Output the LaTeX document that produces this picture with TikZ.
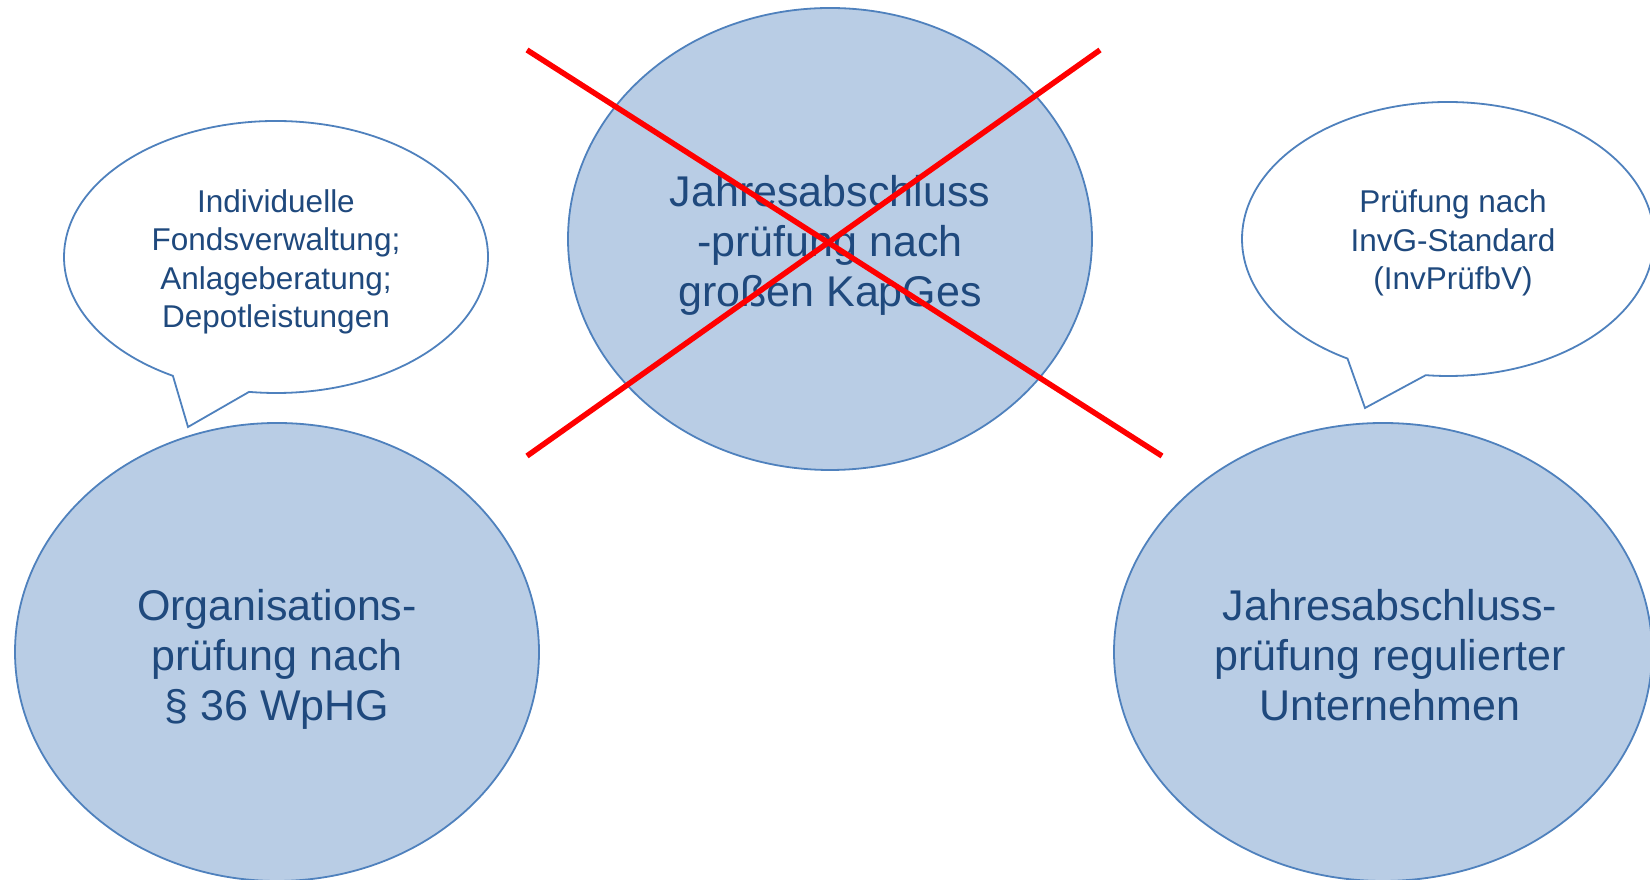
\documentclass[tikz,border=0pt]{standalone}
\usepackage{fontspec}
\setmainfont{Liberation Sans}
\usetikzlibrary{shapes.geometric}
\definecolor{bubblefill}{HTML}{B9CDE5}
\definecolor{bubbleline}{HTML}{4F81BD}
\definecolor{labeltext}{HTML}{1F497D}
\definecolor{crossred}{HTML}{FF0000}

\begin{document}
\begin{tikzpicture}[x=1pt,y=1pt,
  topic/.style={ellipse, draw=bubbleline, fill=bubblefill, line width=1.8pt,
    inner sep=0pt},
  topictext/.style={text=labeltext, align=center, inner sep=0pt,
    font=\fontsize{43}{50}\selectfont},
  speech/.style={draw=bubbleline, fill=white, line width=1.8pt, line join=miter},
  speechtext/.style={text=labeltext, align=center, inner sep=0pt,
    font=\fontsize{31.5}{38.5}\selectfont},
  strike/.style={draw=crossred, line width=5.5pt}]
\useasboundingbox (0,0) rectangle (1650,880);
\clip (0,0) rectangle (1650,880);

% the three audit areas
\node[topic, minimum width=524pt, minimum height=462pt] (kapges) at (830,641) {};
\node[topictext] (kapgestext) at ([yshift=-6pt]kapges.center)
  {Jahresabschluss\\-prüfung nach\\großen KapGes};
\node[topic, minimum width=524pt, minimum height=458pt] (wphg) at (277,228) {};
\node[topictext] (wphgtext) at ([yshift=-7pt]wphg.center)
  {Organisations-\\prüfung nach\\§ 36 WpHG};
\node[topic, minimum width=538pt, minimum height=458pt] (regu) at (1383,228) {};
\node[topictext] (regutext) at ([xshift=7pt,yshift=-3pt]regu.center)
  {Jahresabschluss-\\prüfung regulierter\\Unternehmen};

% crossing out the middle one
\coordinate (xa) at (527,830);
\coordinate (xb) at (1162,424);
\coordinate (xc) at (527,424);
\coordinate (xd) at (1100,830);
\draw[strike] (xa) -- (xb);
\draw[strike] (xc) -- (xd);

% speech bubble above the left area
\coordinate (lbc) at (276,623);
\coordinate (lbtip) at (188,453);
\draw[speech] ([shift={(262.7:212pt and 136pt)}]lbc)
  arc[start angle=262.7, end angle=600.9, x radius=212pt, y radius=136pt]
  -- (lbtip) -- cycle;
\node[speechtext] (lbtext) at (276,618)
  {Individuelle\\Fondsverwaltung;\\Anlageberatung;\\Depotleistungen};

% speech bubble above the right area
\coordinate (rbc) at (1448,641);
\coordinate (rbtip) at (1365,472);
\draw[speech] ([shift={(263.8:206pt and 137pt)}]rbc)
  arc[start angle=263.8, end angle=600.8, x radius=206pt, y radius=137pt]
  -- (rbtip) -- cycle;
\node[speechtext] (rbtext) at (1453,637)
  {Prüfung nach\\InvG-Standard\\(InvPrüfbV)};
\end{tikzpicture}
\end{document}
